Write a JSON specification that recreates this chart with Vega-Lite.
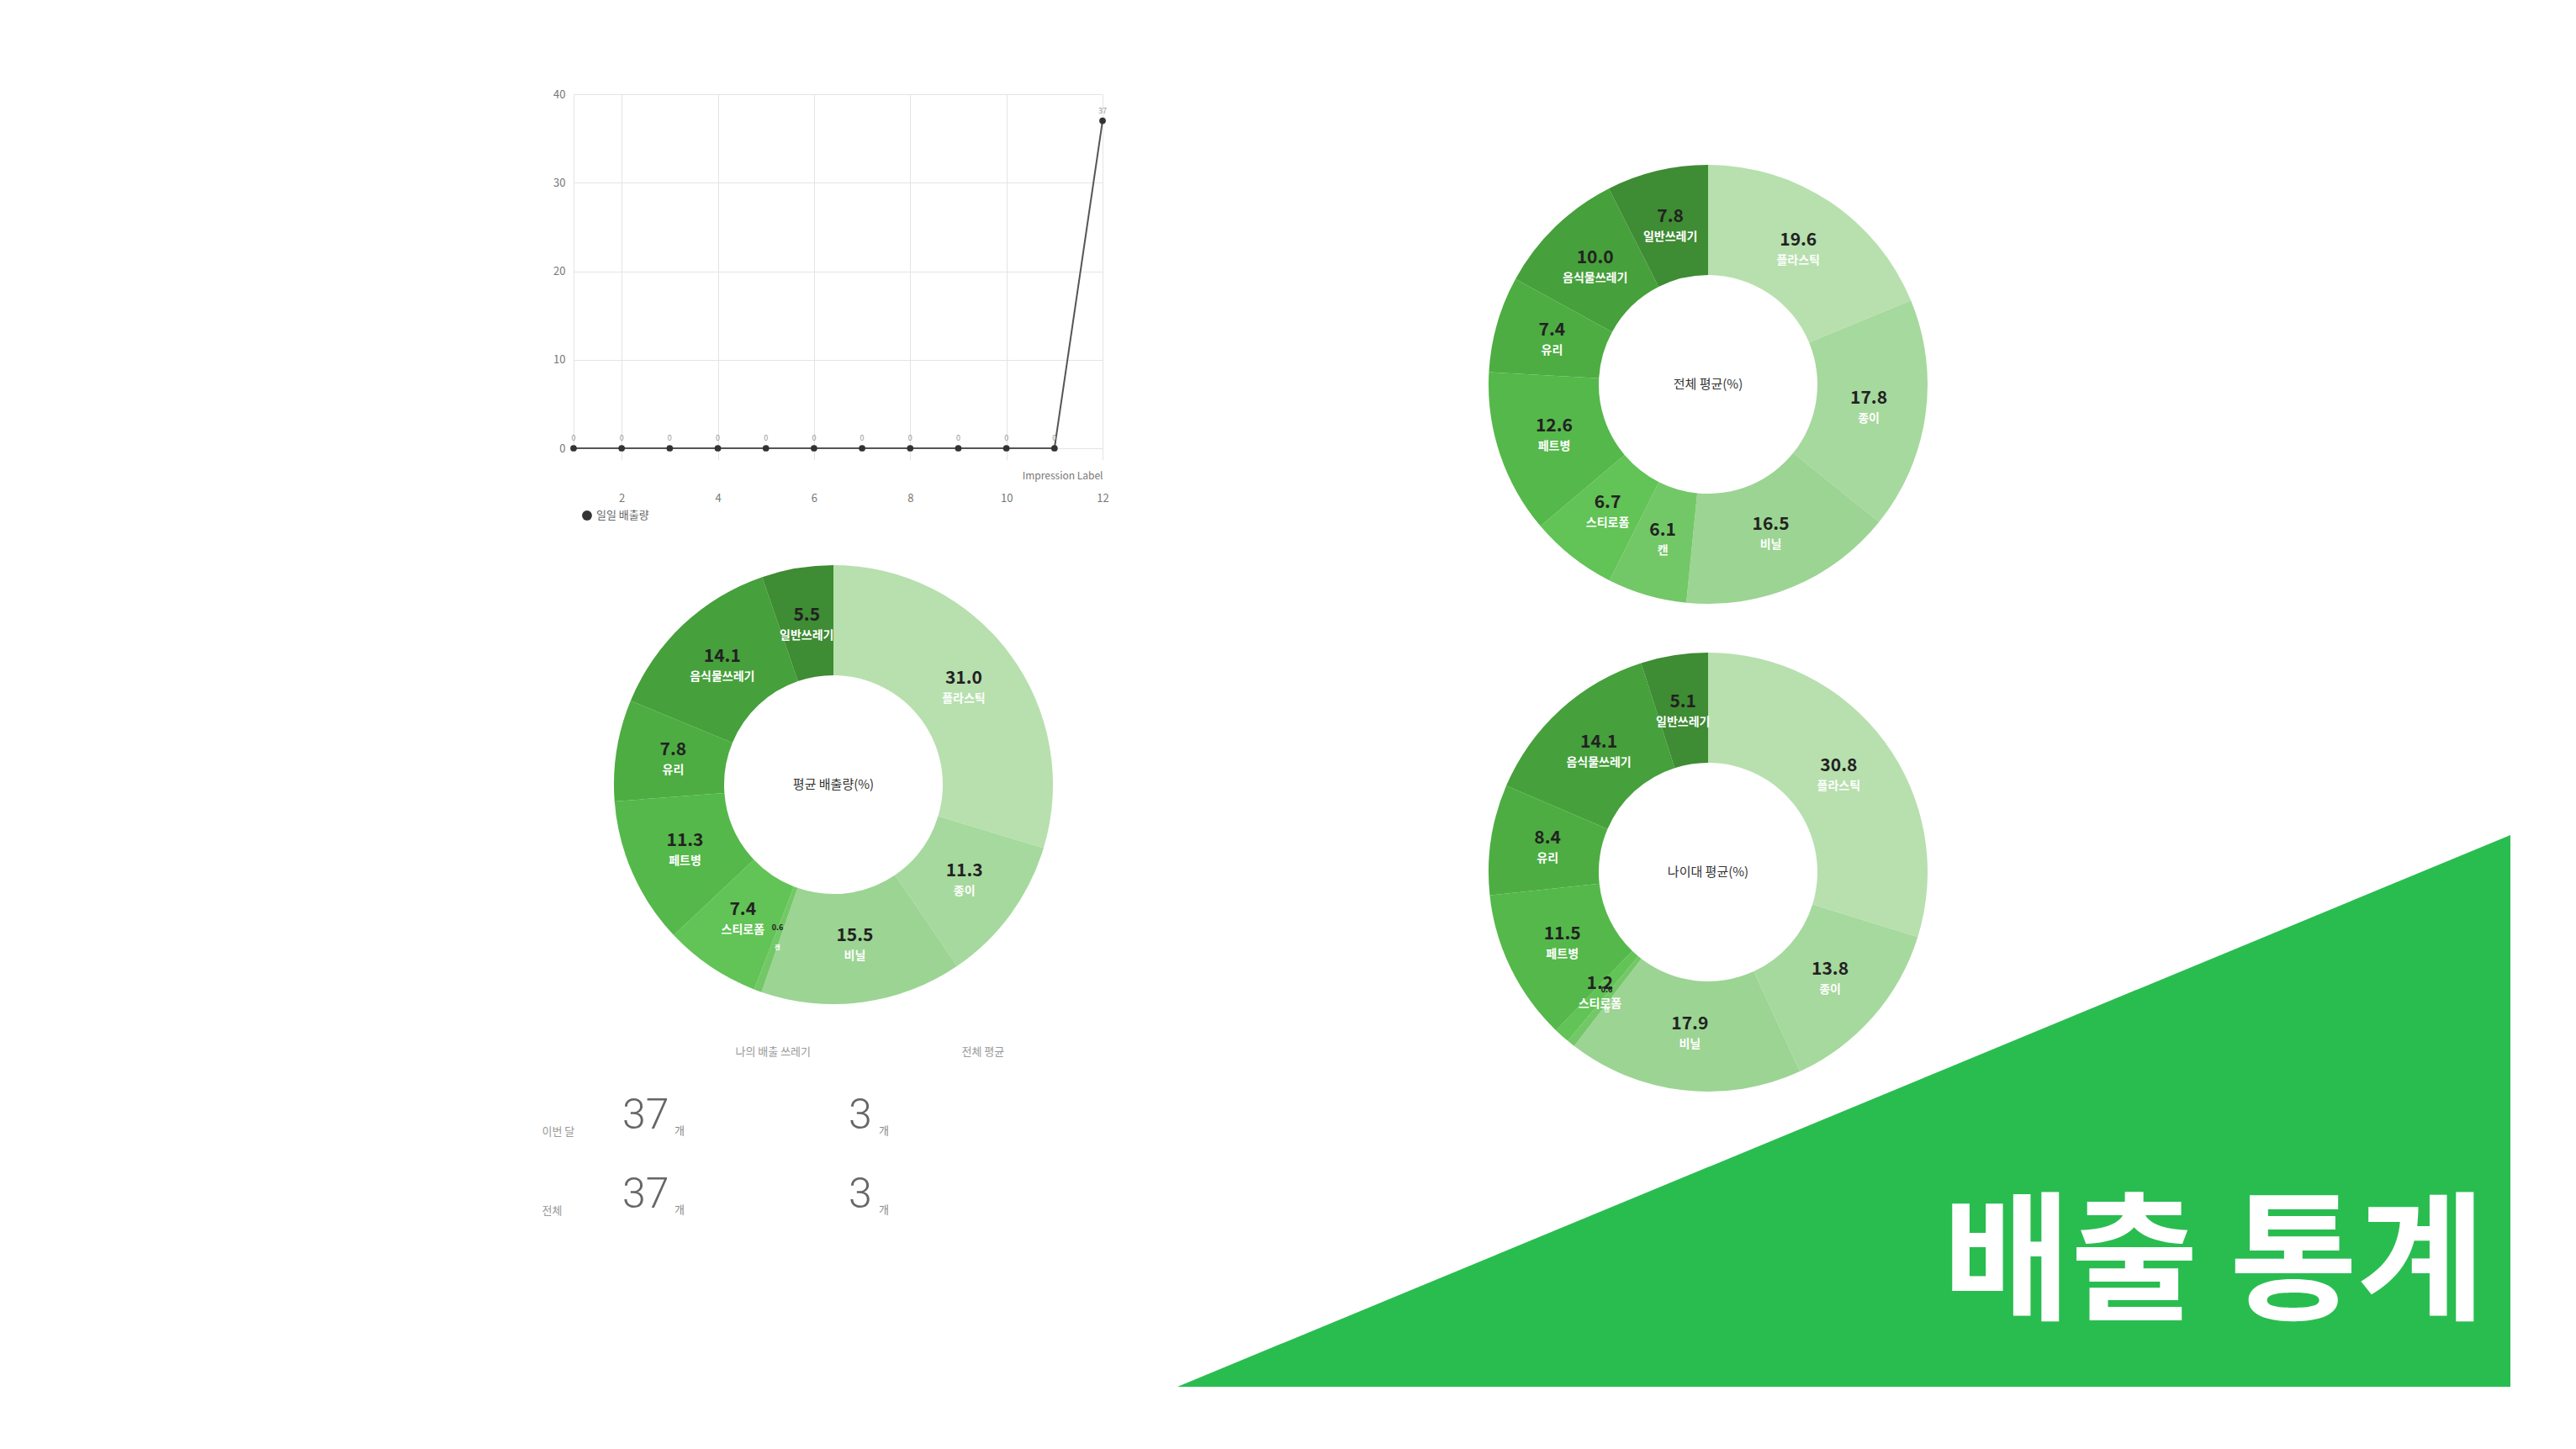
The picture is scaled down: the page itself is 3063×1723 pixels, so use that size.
{
  "$schema": "https://vega.github.io/schema/vega-lite/v6.json",
  "background": "white",
  "padding": {"left": 644, "top": 106, "right": 0, "bottom": 0},
  "config": {"view": {"stroke": null}, "font": "Noto Sans CJK KR"},
  "resolve": {"scale": {"theta": "independent", "color": "independent"}},
  "spacing": 64,
  "hconcat": [
    {
      "spacing": 40,
      "resolve": {"scale": {"theta": "independent", "color": "independent"}},
      "vconcat": [
        {
          "width": 629,
          "height": 421,
          "data": {"values": [
            {"day": 1, "count": 0}, {"day": 2, "count": 0}, {"day": 3, "count": 0},
            {"day": 4, "count": 0}, {"day": 5, "count": 0}, {"day": 6, "count": 0},
            {"day": 7, "count": 0}, {"day": 8, "count": 0}, {"day": 9, "count": 0},
            {"day": 10, "count": 0}, {"day": 11, "count": 0}, {"day": 12, "count": 37}
          ]},
          "encoding": {
            "x": {
              "field": "day", "type": "quantitative",
              "scale": {"domain": [1, 12], "nice": false},
              "axis": {
                "values": [2, 4, 6, 8, 10, 12], "grid": true, "gridColor": "#e4e4e4",
                "domain": false, "tickSize": 14, "tickColor": "#e4e4e4",
                "labelPadding": 39, "labelFlush": false, "labelColor": "#777", "labelFontSize": 13,
                "title": "Impression Label", "titleX": 629, "titleY": 32,
                "titleAlign": "right", "titleBaseline": "middle",
                "titleFontSize": 12, "titleFontWeight": "normal", "titleColor": "#777"
              }
            },
            "y": {
              "field": "count", "type": "quantitative",
              "scale": {"domain": [0, 40], "nice": false},
              "axis": {
                "values": [0, 10, 20, 30, 40], "grid": true, "gridColor": "#e4e4e4",
                "domain": true, "domainColor": "#e4e4e4", "ticks": false,
                "labelPadding": 10, "labelFlush": false, "labelColor": "#777", "labelFontSize": 13,
                "title": null
              }
            }
          },
          "layer": [
            {"mark": {"type": "line", "color": "#555", "strokeWidth": 2}},
            {
              "mark": {"type": "point", "filled": true, "size": 60, "opacity": 1},
              "encoding": {
                "color": {"value": "#333"},
                "shape": {
                  "datum": "일일 배출량",
                  "scale": {"range": ["circle"]},
                  "legend": {
                    "orient": "none", "legendX": 9, "legendY": 494, "padding": 0,
                    "title": null, "labelFontSize": 13, "labelColor": "#666",
                    "symbolSize": 140, "symbolFillColor": "#111", "symbolStrokeColor": "#111"
                  }
                }
              }
            },
            {
              "mark": {"type": "text", "dy": -12, "fontSize": 9, "color": "#999"},
              "encoding": {"text": {"field": "count", "type": "quantitative"}}
            }
          ]
        },
        {
          "width": 618,
          "height": 565,
          "encoding": {
            "y": {"datum": 0.4796, "type": "quantitative", "scale": {"domain": [0, 1], "nice": false}, "axis": null}
          },
          "layer": [
            {
              "data": {"values": [
                {"i": 1, "cat": "플라스틱", "pct": 31.0},
                {"i": 2, "cat": "종이", "pct": 11.3},
                {"i": 3, "cat": "비닐", "pct": 15.5},
                {"i": 4, "cat": "캔", "pct": 0.6},
                {"i": 5, "cat": "스티로폼", "pct": 7.4},
                {"i": 6, "cat": "페트병", "pct": 11.3},
                {"i": 7, "cat": "유리", "pct": 7.8},
                {"i": 8, "cat": "음식물쓰레기", "pct": 14.1},
                {"i": 9, "cat": "일반쓰레기", "pct": 5.5}
              ]},
              "encoding": {
                "theta": {"field": "pct", "type": "quantitative", "stack": true},
                "order": {"field": "i", "type": "quantitative"}
              },
              "layer": [
                {
                  "mark": {"type": "arc", "innerRadius": 130, "outerRadius": 261},
                  "encoding": {"color": {"field": "cat", "type": "nominal", "legend": null,
                    "scale": {"domain": ["플라스틱", "종이", "비닐", "캔", "스티로폼", "페트병", "유리", "음식물쓰레기", "일반쓰레기"],
                              "range": ["#b7e0ae", "#a6d99d", "#9cd493", "#72c866", "#62c356", "#55b84a", "#4dad42", "#46a03b", "#3e8c33"]}}}
                },
                {
                  "mark": {"type": "text", "radius": 193, "dy": -11, "fontWeight": "bold", "color": "#222"},
                  "encoding": {
                    "detail": {"field": "cat"},
                    "size": {"condition": {"test": "datum.pct < 1", "value": 9}, "value": 21},
                    "text": {"field": "pct", "type": "quantitative", "format": ".1f"}
                  }
                },
                {
                  "mark": {"type": "text", "radius": 193, "dy": 13, "fontWeight": "bold", "color": "white"},
                  "encoding": {
                    "detail": {"field": "cat"},
                    "size": {"condition": {"test": "datum.pct < 1", "value": 7}, "value": 14},
                    "text": {"field": "cat"}
                  }
                }
              ]
            },
            {
              "data": {"values": [{"t": "평균 배출량(%)"}]},
              "mark": {"type": "text", "fontSize": 15, "color": "#333"},
              "encoding": {"text": {"field": "t"}}
            }
          ]
        },
        {
          "width": 654,
          "height": 188,
          "data": {"values": [
            {"row": "이번 달", "col": "나의 배출 쓰레기", "n": 37, "u": "개"},
            {"row": "이번 달", "col": "전체 평균", "n": 3, "u": "개"},
            {"row": "전체", "col": "나의 배출 쓰레기", "n": 37, "u": "개"},
            {"row": "전체", "col": "전체 평균", "n": 3, "u": "개"}
          ]},
          "encoding": {
            "x": {
              "field": "col", "type": "nominal", "bandPosition": 0,
              "scale": {"type": "band", "domain": ["나의 배출 쓰레기", "전체 평균"], "paddingInner": 0, "paddingOuter": 0.2156},
              "axis": {"orient": "top", "bandPosition": 0, "labelAlign": "left", "labelAngle": 0,
                       "ticks": false, "domain": false, "labelPadding": 30,
                       "labelFontSize": 13, "labelColor": "#999", "title": null}
            },
            "y": {
              "field": "row", "type": "nominal",
              "scale": {"type": "band", "domain": ["이번 달", "전체"], "paddingInner": 0, "paddingOuter": 0},
              "axis": {"ticks": false, "domain": false, "labelAlign": "left", "labelPadding": 38,
                       "labelOffset": 12, "labelFontSize": 13, "labelColor": "#999", "title": null}
            }
          },
          "layer": [
            {
              "mark": {"type": "text", "align": "left", "baseline": "alphabetic", "dy": 8,
                       "fontSize": 50, "font": "Roboto", "fontWeight": 300, "color": "#666"},
              "encoding": {"text": {"field": "n", "type": "quantitative"}}
            },
            {
              "transform": [{"filter": "datum.col == '나의 배출 쓰레기'"}],
              "mark": {"type": "text", "align": "left", "baseline": "alphabetic", "dx": 62, "dy": 15,
                       "fontSize": 13, "color": "#888"},
              "encoding": {"text": {"field": "u"}}
            },
            {
              "transform": [{"filter": "datum.col == '전체 평균'"}],
              "mark": {"type": "text", "align": "left", "baseline": "alphabetic", "dx": 36, "dy": 15,
                       "fontSize": 13, "color": "#888"},
              "encoding": {"text": {"field": "u"}}
            }
          ]
        }
      ]
    },
    {
      "width": 1585,
      "height": 1537,
      "resolve": {"scale": {"x": "independent", "y": "independent", "theta": "independent"}},
      "layer": [
        {
          "layer": [
            {
              "data": {"values": [{"x": 0, "y": 0}, {"x": 1, "y": 1}]},
              "mark": {"type": "area", "color": "#29bd50"},
              "encoding": {
                "x": {"field": "x", "type": "quantitative", "scale": {"domain": [0, 1], "nice": false}, "axis": null},
                "y": {"field": "y", "type": "quantitative", "scale": {"domain": [0, 2.343], "nice": false}, "axis": null}
              }
            },
            {
              "data": {"values": [{"t": "배출 통계"}]},
              "mark": {"type": "text", "align": "right", "baseline": "alphabetic", "fontSize": 165,
                       "fontWeight": "bold", "color": "white"},
              "encoding": {
                "x": {"datum": 0.981, "type": "quantitative", "scale": {"domain": [0, 1], "nice": false}, "axis": null},
                "y": {"datum": 0.1418, "type": "quantitative", "scale": {"domain": [0, 2.343], "nice": false}, "axis": null},
                "text": {"field": "t"}
              }
            }
          ]
        },
        {
          "encoding": {
            "x": {"datum": 0.3981, "type": "quantitative", "scale": {"domain": [0, 1], "nice": false}, "axis": null},
            "y": {"datum": 0.7755, "type": "quantitative", "scale": {"domain": [0, 1], "nice": false}, "axis": null}
          },
          "layer": [
            {
              "data": {"values": [
                {"i": 1, "cat": "플라스틱", "pct": 19.6},
                {"i": 2, "cat": "종이", "pct": 17.8},
                {"i": 3, "cat": "비닐", "pct": 16.5},
                {"i": 4, "cat": "캔", "pct": 6.1},
                {"i": 5, "cat": "스티로폼", "pct": 6.7},
                {"i": 6, "cat": "페트병", "pct": 12.6},
                {"i": 7, "cat": "유리", "pct": 7.4},
                {"i": 8, "cat": "음식물쓰레기", "pct": 10.0},
                {"i": 9, "cat": "일반쓰레기", "pct": 7.8}
              ]},
              "encoding": {
                "theta": {"field": "pct", "type": "quantitative", "stack": true},
                "order": {"field": "i", "type": "quantitative"}
              },
              "layer": [
                {
                  "mark": {"type": "arc", "innerRadius": 130, "outerRadius": 261},
                  "encoding": {"color": {"field": "cat", "type": "nominal", "legend": null,
                    "scale": {"domain": ["플라스틱", "종이", "비닐", "캔", "스티로폼", "페트병", "유리", "음식물쓰레기", "일반쓰레기"],
                              "range": ["#b7e0ae", "#a6d99d", "#9cd493", "#72c866", "#62c356", "#55b84a", "#4dad42", "#46a03b", "#3e8c33"]}}}
                },
                {
                  "mark": {"type": "text", "radius": 193, "dy": -11, "fontWeight": "bold", "color": "#222"},
                  "encoding": {
                    "detail": {"field": "cat"},
                    "size": {"condition": {"test": "datum.pct < 1", "value": 9}, "value": 21},
                    "text": {"field": "pct", "type": "quantitative", "format": ".1f"}
                  }
                },
                {
                  "mark": {"type": "text", "radius": 193, "dy": 13, "fontWeight": "bold", "color": "white"},
                  "encoding": {
                    "detail": {"field": "cat"},
                    "size": {"condition": {"test": "datum.pct < 1", "value": 7}, "value": 14},
                    "text": {"field": "cat"}
                  }
                }
              ]
            },
            {
              "data": {"values": [{"t": "전체 평균(%)"}]},
              "mark": {"type": "text", "fontSize": 15, "color": "#333"},
              "encoding": {"text": {"field": "t"}}
            }
          ]
        },
        {
          "encoding": {
            "x": {"datum": 0.3981, "type": "quantitative", "scale": {"domain": [0, 1], "nice": false}, "axis": null},
            "y": {"datum": 0.3982, "type": "quantitative", "scale": {"domain": [0, 1], "nice": false}, "axis": null}
          },
          "layer": [
            {
              "data": {"values": [
                {"i": 1, "cat": "플라스틱", "pct": 30.8},
                {"i": 2, "cat": "종이", "pct": 13.8},
                {"i": 3, "cat": "비닐", "pct": 17.9},
                {"i": 4, "cat": "캔", "pct": 0.6},
                {"i": 5, "cat": "스티로폼", "pct": 1.2},
                {"i": 6, "cat": "페트병", "pct": 11.5},
                {"i": 7, "cat": "유리", "pct": 8.4},
                {"i": 8, "cat": "음식물쓰레기", "pct": 14.1},
                {"i": 9, "cat": "일반쓰레기", "pct": 5.1}
              ]},
              "encoding": {
                "theta": {"field": "pct", "type": "quantitative", "stack": true},
                "order": {"field": "i", "type": "quantitative"}
              },
              "layer": [
                {
                  "mark": {"type": "arc", "innerRadius": 130, "outerRadius": 261},
                  "encoding": {"color": {"field": "cat", "type": "nominal", "legend": null,
                    "scale": {"domain": ["플라스틱", "종이", "비닐", "캔", "스티로폼", "페트병", "유리", "음식물쓰레기", "일반쓰레기"],
                              "range": ["#b7e0ae", "#a6d99d", "#9cd493", "#72c866", "#62c356", "#55b84a", "#4dad42", "#46a03b", "#3e8c33"]}}}
                },
                {
                  "mark": {"type": "text", "radius": 193, "dy": -11, "fontWeight": "bold", "color": "#222"},
                  "encoding": {
                    "detail": {"field": "cat"},
                    "size": {"condition": {"test": "datum.pct < 1", "value": 9}, "value": 21},
                    "text": {"field": "pct", "type": "quantitative", "format": ".1f"}
                  }
                },
                {
                  "mark": {"type": "text", "radius": 193, "dy": 13, "fontWeight": "bold", "color": "white"},
                  "encoding": {
                    "detail": {"field": "cat"},
                    "size": {"condition": {"test": "datum.pct < 1", "value": 7}, "value": 14},
                    "text": {"field": "cat"}
                  }
                }
              ]
            },
            {
              "data": {"values": [{"t": "나이대 평균(%)"}]},
              "mark": {"type": "text", "fontSize": 15, "color": "#333"},
              "encoding": {"text": {"field": "t"}}
            }
          ]
        }
      ]
    }
  ]
}
